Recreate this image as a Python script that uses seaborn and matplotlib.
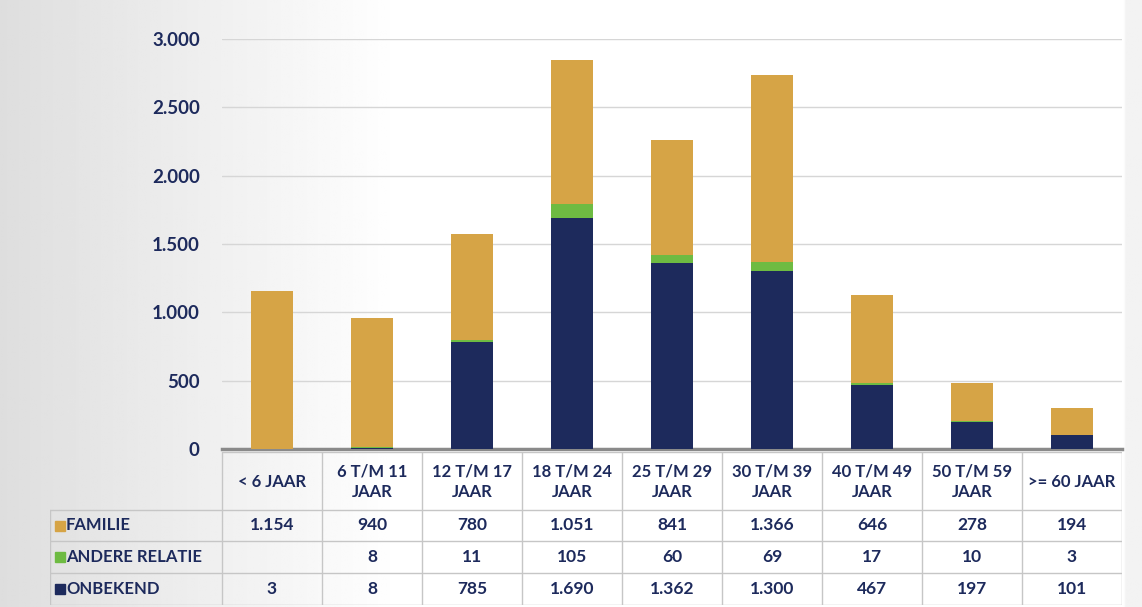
import numpy as np
import pandas as pd
import matplotlib
matplotlib.use("Agg")
import matplotlib.pyplot as plt
import seaborn as sns

# data
categories = ["< 6 JAAR", "6 T/M 11\nJAAR", "12 T/M 17\nJAAR", "18 T/M 24\nJAAR",
              "25 T/M 29\nJAAR", "30 T/M 39\nJAAR", "40 T/M 49\nJAAR",
              "50 T/M 59\nJAAR", ">= 60 JAAR"]
familie = [1154, 940, 780, 1051, 841, 1366, 646, 278, 194]
andere_relatie = [None, 8, 11, 105, 60, 69, 17, 10, 3]
onbekend = [3, 8, 785, 1690, 1362, 1300, 467, 197, 101]
series_names = ["FAMILIE", "ANDERE RELATIE", "ONBEKEND"]
yticks = [0, 500, 1000, 1500, 2000, 2500, 3000]

GOLD = "#D6A446"
GREEN = "#6EBB42"
NAVY = "#1D2A5C"
colors = [GOLD, GREEN, NAVY]


def fmt(v):
    if v is None or pd.isna(v):
        return ""
    return f"{int(v):,}".replace(",", ".")


df = pd.DataFrame({"cat": categories, "FAMILIE": familie,
                   "ANDERE RELATIE": andere_relatie, "ONBEKEND": onbekend})
df["ANDERE RELATIE"] = df["ANDERE RELATIE"].astype(float)
df["low"] = df["ONBEKEND"]
df["mid"] = df["low"] + df["ANDERE RELATIE"].fillna(0)
df["top"] = df["mid"] + df["FAMILIE"]

sns.set_theme(style="white")
plt.rcParams["font.family"] = ["Lato", "DejaVu Sans"]

W, H = 1142, 607
fig = plt.figure(figsize=(W / 100, H / 100), dpi=100)

# greyish scan background, fading to white
bg = fig.add_axes([0, 0, 1, 1], zorder=-10)
xs = np.linspace(0, 1, 400)
shade = 0.87 + 0.13 * np.clip(xs / 0.35, 0, 1)
shade = np.where(xs > 0.985, shade - 0.05, shade)
bg.imshow(np.tile(shade, (10, 1)), cmap="gray", vmin=0, vmax=1,
          aspect="auto", extent=[0, 1, 0, 1])
bg.axis("off")

# stacked bars: totals first, then the lower segments drawn over them
ax = fig.add_axes([222 / W, 158 / H, 900 / W, 410 / H])
ax.patch.set_alpha(0)
for col, c in zip(["top", "mid", "low"], colors):
    sns.barplot(data=df, x="cat", y=col, color=c, width=0.42,
                saturation=1, linewidth=0, edgecolor="none", ax=ax, zorder=3)
ax.set_xlim(-0.5, len(categories) - 0.5)
ax.set_ylim(0, 3000)
ax.set_yticks(yticks)
ax.set_yticklabels([fmt(v) for v in yticks], fontsize=13.5,
                   fontweight="bold", color=NAVY)
ax.tick_params(axis="y", length=0, pad=16)
ax.set_xticks([])
ax.set_xlabel("")
ax.set_ylabel("")
ax.yaxis.grid(True, color="#d6d6d6", linewidth=1)
for s in ["top", "right", "left"]:
    ax.spines[s].set_visible(False)
ax.spines["bottom"].set_color("#8a8a8a")
ax.spines["bottom"].set_linewidth(2.5)

# data table under the bars
rows = [452, 510, 541, 573, 605]
label_w = 1.72
tax = fig.add_axes([50 / W, (H - rows[-1]) / H, 1072 / W,
                    (rows[-1] - rows[0]) / H])
tax.set_xlim(-0.5 - label_w, len(categories) - 0.5)
tax.set_ylim(rows[-1], rows[0])
tax.axis("off")
line = dict(color="#c6c6c6", linewidth=1)
n = len(categories)
for i in range(n + 1):
    tax.plot([i - 0.5, i - 0.5], [rows[0], rows[-1]], **line)
tax.plot([-0.5 - label_w] * 2, [rows[1], rows[-1]], **line)
tax.plot([-0.5, n - 0.5], [rows[0], rows[0]], **line)
for r in rows[1:]:
    tax.plot([-0.5 - label_w, n - 0.5], [r, r], **line)

for i, cat in enumerate(categories):
    tax.text(i, (rows[0] + rows[1]) / 2 + 1, cat, ha="center", va="center",
             fontsize=12, fontweight="bold", color=NAVY, linespacing=1.35)

series_vals = [familie, andere_relatie, onbekend]
for r, (name, vals, c) in enumerate(zip(series_names, series_vals, colors)):
    yc = (rows[r + 1] + rows[r + 2]) / 2
    tax.plot([-0.5 - label_w + 0.1], [yc], marker="s", markersize=7,
             color=c, linestyle="none")
    tax.text(-0.5 - label_w + 0.16, yc, name, ha="left", va="center",
             fontsize=12, fontweight="bold", color=NAVY)
    for i, v in enumerate(vals):
        tax.text(i, yc, fmt(v), ha="center", va="center",
                 fontsize=12.5, fontweight="bold", color=NAVY)

fig.savefig("out.png", dpi=100)
